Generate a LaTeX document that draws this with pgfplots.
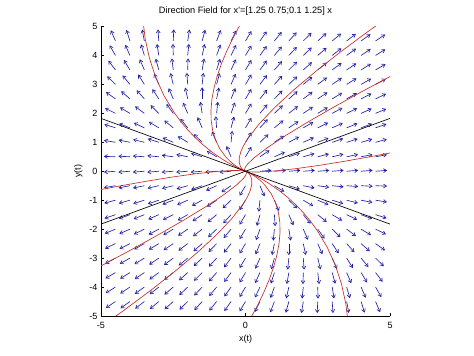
\documentclass[border=0pt]{standalone}
\usepackage{fontspec}
\setmainfont{Liberation Sans}
\usepackage{pgfplots}
\pgfplotsset{compat=1.18}
\usepackage{pgfplotstable}
\usetikzlibrary{arrows.meta}
\definecolor{fieldblue}{RGB}{30,30,165}
\definecolor{trajred}{RGB}{195,45,40}

% direction field: grid points and unnormalised (A x) components (x40)
\pgfplotstableread{
x y U V
-4.5 -4.5 -360 -243
-4.5 -4 -345 -218
-4.5 -3.5 -330 -193
-4.5 -3 -315 -168
-4.5 -2.5 -300 -143
-4.5 -2 -285 -118
-4.5 -1.5 -270 -93
-4.5 -1 -255 -68
-4.5 -0.5 -240 -43
-4.5 0 -225 -18
-4.5 0.5 -210 7
-4.5 1 -195 32
-4.5 1.5 -180 57
-4.5 2 -165 82
-4.5 2.5 -150 107
-4.5 3 -135 132
-4.5 3.5 -120 157
-4.5 4 -105 182
-4.5 4.5 -90 207
-4 -4.5 -335 -241
-4 -4 -320 -216
-4 -3.5 -305 -191
-4 -3 -290 -166
-4 -2.5 -275 -141
-4 -2 -260 -116
-4 -1.5 -245 -91
-4 -1 -230 -66
-4 -0.5 -215 -41
-4 0 -200 -16
-4 0.5 -185 9
-4 1 -170 34
-4 1.5 -155 59
-4 2 -140 84
-4 2.5 -125 109
-4 3 -110 134
-4 3.5 -95 159
-4 4 -80 184
-4 4.5 -65 209
-3.5 -4.5 -310 -239
-3.5 -4 -295 -214
-3.5 -3.5 -280 -189
-3.5 -3 -265 -164
-3.5 -2.5 -250 -139
-3.5 -2 -235 -114
-3.5 -1.5 -220 -89
-3.5 -1 -205 -64
-3.5 -0.5 -190 -39
-3.5 0 -175 -14
-3.5 0.5 -160 11
-3.5 1 -145 36
-3.5 1.5 -130 61
-3.5 2 -115 86
-3.5 2.5 -100 111
-3.5 3 -85 136
-3.5 3.5 -70 161
-3.5 4 -55 186
-3.5 4.5 -40 211
-3 -4.5 -285 -237
-3 -4 -270 -212
-3 -3.5 -255 -187
-3 -3 -240 -162
-3 -2.5 -225 -137
-3 -2 -210 -112
-3 -1.5 -195 -87
-3 -1 -180 -62
-3 -0.5 -165 -37
-3 0 -150 -12
-3 0.5 -135 13
-3 1 -120 38
-3 1.5 -105 63
-3 2 -90 88
-3 2.5 -75 113
-3 3 -60 138
-3 3.5 -45 163
-3 4 -30 188
-3 4.5 -15 213
-2.5 -4.5 -260 -235
-2.5 -4 -245 -210
-2.5 -3.5 -230 -185
-2.5 -3 -215 -160
-2.5 -2.5 -200 -135
-2.5 -2 -185 -110
-2.5 -1.5 -170 -85
-2.5 -1 -155 -60
-2.5 -0.5 -140 -35
-2.5 0 -125 -10
-2.5 0.5 -110 15
-2.5 1 -95 40
-2.5 1.5 -80 65
-2.5 2 -65 90
-2.5 2.5 -50 115
-2.5 3 -35 140
-2.5 3.5 -20 165
-2.5 4 -5 190
-2.5 4.5 10 215
-2 -4.5 -235 -233
-2 -4 -220 -208
-2 -3.5 -205 -183
-2 -3 -190 -158
-2 -2.5 -175 -133
-2 -2 -160 -108
-2 -1.5 -145 -83
-2 -1 -130 -58
-2 -0.5 -115 -33
-2 0 -100 -8
-2 0.5 -85 17
-2 1 -70 42
-2 1.5 -55 67
-2 2 -40 92
-2 2.5 -25 117
-2 3 -10 142
-2 3.5 5 167
-2 4 20 192
-2 4.5 35 217
-1.5 -4.5 -210 -231
-1.5 -4 -195 -206
-1.5 -3.5 -180 -181
-1.5 -3 -165 -156
-1.5 -2.5 -150 -131
-1.5 -2 -135 -106
-1.5 -1.5 -120 -81
-1.5 -1 -105 -56
-1.5 -0.5 -90 -31
-1.5 0 -75 -6
-1.5 0.5 -60 19
-1.5 1 -45 44
-1.5 1.5 -30 69
-1.5 2 -15 94
-1.5 2.5 0 119
-1.5 3 15 144
-1.5 3.5 30 169
-1.5 4 45 194
-1.5 4.5 60 219
-1 -4.5 -185 -229
-1 -4 -170 -204
-1 -3.5 -155 -179
-1 -3 -140 -154
-1 -2.5 -125 -129
-1 -2 -110 -104
-1 -1.5 -95 -79
-1 -1 -80 -54
-1 -0.5 -65 -29
-1 0 -50 -4
-1 0.5 -35 21
-1 1 -20 46
-1 1.5 -5 71
-1 2 10 96
-1 2.5 25 121
-1 3 40 146
-1 3.5 55 171
-1 4 70 196
-1 4.5 85 221
-0.5 -4.5 -160 -227
-0.5 -4 -145 -202
-0.5 -3.5 -130 -177
-0.5 -3 -115 -152
-0.5 -2.5 -100 -127
-0.5 -2 -85 -102
-0.5 -1.5 -70 -77
-0.5 -1 -55 -52
-0.5 -0.5 -40 -27
-0.5 0 -25 -2
-0.5 0.5 -10 23
-0.5 1 5 48
-0.5 1.5 20 73
-0.5 2 35 98
-0.5 2.5 50 123
-0.5 3 65 148
-0.5 3.5 80 173
-0.5 4 95 198
-0.5 4.5 110 223
0 -4.5 -135 -225
0 -4 -120 -200
0 -3.5 -105 -175
0 -3 -90 -150
0 -2.5 -75 -125
0 -2 -60 -100
0 -1.5 -45 -75
0 -1 -30 -50
0 -0.5 -15 -25
0 0.5 15 25
0 1 30 50
0 1.5 45 75
0 2 60 100
0 2.5 75 125
0 3 90 150
0 3.5 105 175
0 4 120 200
0 4.5 135 225
0.5 -4.5 -110 -223
0.5 -4 -95 -198
0.5 -3.5 -80 -173
0.5 -3 -65 -148
0.5 -2.5 -50 -123
0.5 -2 -35 -98
0.5 -1.5 -20 -73
0.5 -1 -5 -48
0.5 -0.5 10 -23
0.5 0 25 2
0.5 0.5 40 27
0.5 1 55 52
0.5 1.5 70 77
0.5 2 85 102
0.5 2.5 100 127
0.5 3 115 152
0.5 3.5 130 177
0.5 4 145 202
0.5 4.5 160 227
1 -4.5 -85 -221
1 -4 -70 -196
1 -3.5 -55 -171
1 -3 -40 -146
1 -2.5 -25 -121
1 -2 -10 -96
1 -1.5 5 -71
1 -1 20 -46
1 -0.5 35 -21
1 0 50 4
1 0.5 65 29
1 1 80 54
1 1.5 95 79
1 2 110 104
1 2.5 125 129
1 3 140 154
1 3.5 155 179
1 4 170 204
1 4.5 185 229
1.5 -4.5 -60 -219
1.5 -4 -45 -194
1.5 -3.5 -30 -169
1.5 -3 -15 -144
1.5 -2.5 0 -119
1.5 -2 15 -94
1.5 -1.5 30 -69
1.5 -1 45 -44
1.5 -0.5 60 -19
1.5 0 75 6
1.5 0.5 90 31
1.5 1 105 56
1.5 1.5 120 81
1.5 2 135 106
1.5 2.5 150 131
1.5 3 165 156
1.5 3.5 180 181
1.5 4 195 206
1.5 4.5 210 231
2 -4.5 -35 -217
2 -4 -20 -192
2 -3.5 -5 -167
2 -3 10 -142
2 -2.5 25 -117
2 -2 40 -92
2 -1.5 55 -67
2 -1 70 -42
2 -0.5 85 -17
2 0 100 8
2 0.5 115 33
2 1 130 58
2 1.5 145 83
2 2 160 108
2 2.5 175 133
2 3 190 158
2 3.5 205 183
2 4 220 208
2 4.5 235 233
2.5 -4.5 -10 -215
2.5 -4 5 -190
2.5 -3.5 20 -165
2.5 -3 35 -140
2.5 -2.5 50 -115
2.5 -2 65 -90
2.5 -1.5 80 -65
2.5 -1 95 -40
2.5 -0.5 110 -15
2.5 0 125 10
2.5 0.5 140 35
2.5 1 155 60
2.5 1.5 170 85
2.5 2 185 110
2.5 2.5 200 135
2.5 3 215 160
2.5 3.5 230 185
2.5 4 245 210
2.5 4.5 260 235
3 -4.5 15 -213
3 -4 30 -188
3 -3.5 45 -163
3 -3 60 -138
3 -2.5 75 -113
3 -2 90 -88
3 -1.5 105 -63
3 -1 120 -38
3 -0.5 135 -13
3 0 150 12
3 0.5 165 37
3 1 180 62
3 1.5 195 87
3 2 210 112
3 2.5 225 137
3 3 240 162
3 3.5 255 187
3 4 270 212
3 4.5 285 237
3.5 -4.5 40 -211
3.5 -4 55 -186
3.5 -3.5 70 -161
3.5 -3 85 -136
3.5 -2.5 100 -111
3.5 -2 115 -86
3.5 -1.5 130 -61
3.5 -1 145 -36
3.5 -0.5 160 -11
3.5 0 175 14
3.5 0.5 190 39
3.5 1 205 64
3.5 1.5 220 89
3.5 2 235 114
3.5 2.5 250 139
3.5 3 265 164
3.5 3.5 280 189
3.5 4 295 214
3.5 4.5 310 239
4 -4.5 65 -209
4 -4 80 -184
4 -3.5 95 -159
4 -3 110 -134
4 -2.5 125 -109
4 -2 140 -84
4 -1.5 155 -59
4 -1 170 -34
4 -0.5 185 -9
4 0 200 16
4 0.5 215 41
4 1 230 66
4 1.5 245 91
4 2 260 116
4 2.5 275 141
4 3 290 166
4 3.5 305 191
4 4 320 216
4 4.5 335 241
4.5 -4.5 90 -207
4.5 -4 105 -182
4.5 -3.5 120 -157
4.5 -3 135 -132
4.5 -2.5 150 -107
4.5 -2 165 -82
4.5 -1.5 180 -57
4.5 -1 195 -32
4.5 -0.5 210 -7
4.5 0 225 18
4.5 0.5 240 43
4.5 1 255 68
4.5 1.5 270 93
4.5 2 285 118
4.5 2.5 300 143
4.5 3 315 168
4.5 3.5 330 193
4.5 4 345 218
4.5 4.5 360 243
}\field

\begin{document}
\begin{tikzpicture}
\path[use as bounding box] (-101pt,-40pt) rectangle (373pt,316pt);
\begin{axis}[
  scale only axis,
  width=289pt, height=289.5pt,
  xmin=-5, xmax=5, ymin=-5, ymax=5,
  axis x line*=bottom, axis y line*=left,
  x axis line style={-}, y axis line style={-},
  axis line style={black, line width=0.5pt},
  tick align=inside, major tick length=3pt,
  tick style={black, line width=0.5pt},
  xtick={-5,0,5}, xticklabels={-5,0,5},
  ytick={-5,-4,-3,-2,-1,0,1,2,3,4,5},
  yticklabels={-5,-4,-3,-2,-1,0,1,2,3,4,5},
  ticklabel style={font=\fontsize{9}{10}\selectfont},
  xticklabel style={yshift=-2.5pt},
  xlabel={x(t)}, ylabel={y(t)},
  label style={font=\fontsize{9}{10}\selectfont},
  title={Direction Field for x'=[1.25 0.75;0.1 1.25] x},
  title style={font=\fontsize{9.2}{10}\selectfont, anchor=base, at={(0.5,1)}, yshift=7pt},
]
\addplot[fieldblue, line width=0.65pt, -{Straight Barb[length=3pt,width=3.8pt]},
  quiver={
    u={0.4*(\thisrow{U}/100)/sqrt((\thisrow{U}/100)^2+(\thisrow{V}/100)^2)},
    v={0.4*(\thisrow{V}/100)/sqrt((\thisrow{U}/100)^2+(\thisrow{V}/100)^2)}
  }] table[x=x,y=y] {\field};

% trajectories
\addplot[trajred, line width=0.65pt] coordinates {(0,0) (-0.0952,0.0383) (-0.1857,0.0783) (-0.2731,0.1194) (-0.4402,0.2044) (-0.6375,0.3149) (-0.8237,0.4295) (-1.168,0.6690) (-1.4798,0.9203) (-1.7629,1.1820) (-2.0202,1.4532) (-2.2536,1.7332) (-2.4649,2.0211) (-2.8253,2.6198) (-3.1090,3.2466) (-3.3226,3.8988) (-3.4708,4.5750) (-3.5559,5.2742)};
\addplot[trajred, line width=0.65pt] coordinates {(0,0) (0.0952,-0.0383) (0.1857,-0.0783) (0.2731,-0.1194) (0.4402,-0.2044) (0.6375,-0.3149) (0.8237,-0.4295) (1.168,-0.6690) (1.4798,-0.9203) (1.7629,-1.1820) (2.0202,-1.4532) (2.2536,-1.7332) (2.4649,-2.0211) (2.8253,-2.6198) (3.1090,-3.2466) (3.3226,-3.8988) (3.4708,-4.5750) (3.5559,-5.2742)};
\addplot[trajred, line width=0.65pt] coordinates {(0,0) (-0.0910,0.0398) (-0.1736,0.0827) (-0.2502,0.1277) (-0.3895,0.2229) (-0.5419,0.3498) (-0.6739,0.4842) (-0.8859,0.7720) (-1.0377,1.0817) (-1.1367,1.4107) (-1.1877,1.7572) (-1.1945,2.1199) (-1.1606,2.4974) (-1.0874,2.8893) (-0.9776,3.2945) (-0.8322,3.7128) (-0.6526,4.1435) (-0.4410,4.5859) (-0.1979,5.0398)};
\addplot[trajred, line width=0.65pt] coordinates {(0,0) (0.0910,-0.0398) (0.1736,-0.0827) (0.2502,-0.1277) (0.3895,-0.2229) (0.5419,-0.3498) (0.6739,-0.4842) (0.8859,-0.7720) (1.0377,-1.0817) (1.1367,-1.4107) (1.1877,-1.7572) (1.1945,-2.1199) (1.1606,-2.4974) (1.0874,-2.8893) (0.9776,-3.2945) (0.8322,-3.7128) (0.6526,-4.1435) (0.4410,-4.5859) (0.1979,-5.0398)};
\addplot[trajred, line width=0.65pt] coordinates {(0,0) (-0.0422,0.0211) (-0.0770,0.0449) (-0.1321,0.0978) (-0.1722,0.1562) (-0.2163,0.2862) (-0.2158,0.4689) (-0.163,0.6708) (-0.0641,0.8895) (0.0763,1.1233) (0.4698,1.6322) (0.9992,2.1906) (1.6515,2.7940) (2.4174,3.4388) (3.2880,4.1218) (4.2592,4.8416) (5.3244,5.5957)};
\addplot[trajred, line width=0.65pt] coordinates {(0,0) (0.0422,-0.0211) (0.0770,-0.0449) (0.1321,-0.0978) (0.1722,-0.1562) (0.2163,-0.2862) (0.2158,-0.4689) (0.163,-0.6708) (0.0641,-0.8895) (-0.0763,-1.1233) (-0.4698,-1.6322) (-0.9992,-2.1906) (-1.6515,-2.7940) (-2.4174,-3.4388) (-3.2880,-4.1218) (-4.2592,-4.8416) (-5.3244,-5.5957)};
\addplot[trajred, line width=0.65pt] coordinates {(0,0) (-0.0276,0.0264) (-0.0339,0.0607) (-0.0049,0.1443) (0.0673,0.2437) (0.3154,0.4803) (0.7855,0.8346) (1.406,1.2437) (2.1588,1.7012) (3.0312,2.2023) (4.0136,2.7436) (5.0996,3.3227)};
\addplot[trajred, line width=0.65pt] coordinates {(0,0) (0.0276,-0.0264) (0.0339,-0.0607) (0.0049,-0.1443) (-0.0673,-0.2437) (-0.3154,-0.4803) (-0.7855,-0.8346) (-1.406,-1.2437) (-2.1588,-1.7012) (-3.0312,-2.2023) (-4.0136,-2.7436) (-5.0996,-3.3227)};
\addplot[trajred, line width=0.65pt] coordinates {(0,0) (0.0645,-0.0130) (0.1428,-0.0209) (0.3263,-0.0269) (0.5378,-0.0227) (1.0280,0.0102) (1.7443,0.0892) (2.558,0.2038) (3.4574,0.3496) (4.4342,0.5237) (5.4822,0.7238)};
\addplot[trajred, line width=0.65pt] coordinates {(0,0) (-0.0645,0.0130) (-0.1428,0.0209) (-0.3263,0.0269) (-0.5378,0.0227) (-1.0280,-0.0102) (-1.7443,-0.0892) (-2.558,-0.2038) (-3.4574,-0.3496) (-4.4342,-0.5237) (-5.4822,-0.7238)};

% eigenvector lines
\addplot[black, line width=0.65pt] coordinates {(-5,-1.8257) (5,1.8257)};
\addplot[black, line width=0.65pt] coordinates {(-5,1.8257) (5,-1.8257)};
\end{axis}
\end{tikzpicture}
\end{document}
